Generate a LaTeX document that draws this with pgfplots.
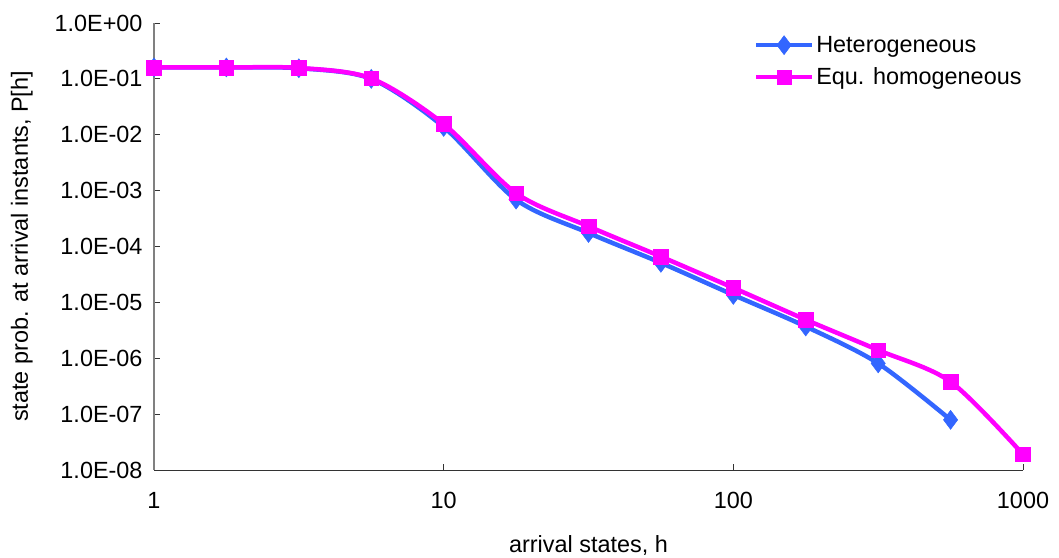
\documentclass[border=0pt]{standalone}
\usepackage{fontspec}
\setmainfont{Liberation Sans}
\usepackage{pgfplots}
\pgfplotsset{compat=1.18}
\definecolor{hetblue}{HTML}{3366FF}
\definecolor{hommag}{HTML}{FF00FF}
\begin{document}
\begin{tikzpicture}
\useasboundingbox (0,0) rectangle (1059bp,558bp);
\begin{axis}[
  at={(154bp,88bp)}, anchor=south west,
  scale only axis, width=869bp, height=447bp,
  xmode=log, ymode=log,
  xmin=1, xmax=1000, ymin=1e-8, ymax=1,
  xtick={1,10,100,1000}, xticklabels={1,10,100,1000},
  ytick={1e-8,1e-7,1e-6,1e-5,1e-4,1e-3,1e-2,1e-1,1},
  yticklabels={1.0E-08,1.0E-07,1.0E-06,1.0E-05,1.0E-04,1.0E-03,1.0E-02,1.0E-01,1.0E+00},
  xminorticks=false, yminorticks=false,
  tick align=inside, major tick length=6bp,
  tick style={black!80, line width=0.8pt},
  axis x line*=bottom, axis y line*=left,
  x axis line style={black!80, line width=1pt, -},
  y axis line style={black!50, line width=1.5pt, -},
  tick label style={font=\fontsize{23.5}{28}\selectfont},
  yticklabel style={xshift=-8bp},
  xticklabel style={yshift=-19bp},
  xlabel={arrival states, h},
  ylabel={state prob. at arrival instants, P[h]},
  label style={font=\fontsize{23.5}{28}\selectfont},
  xlabel style={at={(axis description cs:0.5,-0.168)}, anchor=center},
  ylabel style={at={(axis description cs:-0.152,0.5)}, anchor=center},
  clip=false,
  legend style={draw=none, fill=none, at={(0.69,0.975)}, anchor=north west,
    inner sep=0pt, font=\fontsize{23.5}{28}\selectfont, row sep=10bp},
  legend cell align=left,
  legend image code/.code={
    \draw[#1] (0bp,0bp) -- (28bp,0bp) plot coordinates {(28bp,0bp)} -- (56bp,0bp);
  },
]
\addplot[color=hetblue, line width=4.5bp, smooth, tension=0.5,
  mark=diamond*, mark size=9.5bp, mark options={solid, fill=hetblue, line width=0.5pt}]
  coordinates {
  (1,0.16) (1.778,0.16) (3.162,0.155) (5.623,0.100) (10,0.0138)
  (17.78,6.9e-4) (31.62,1.75e-4) (56.23,5.1e-5) (100,1.36e-5)
  (177.8,3.7e-6) (316.2,8.1e-7) (562.3,7.9e-8)
  };
\addlegendentry{Heterogeneous}
\addplot[color=hommag, line width=4.5bp, smooth, tension=0.5,
  mark=square*, mark size=7.3bp, mark options={solid, fill=hommag, line width=0.5pt}]
  coordinates {
  (1,0.16) (1.778,0.16) (3.162,0.157) (5.623,0.102) (10,0.0156)
  (17.78,9.0e-4) (31.62,2.3e-4) (56.23,6.6e-5) (100,1.82e-5)
  (177.8,4.9e-6) (316.2,1.4e-6) (562.3,3.8e-7) (1000,1.9e-8)
  };
\addlegendentry{Equ. homogeneous}
\end{axis}
\end{tikzpicture}
\end{document}
